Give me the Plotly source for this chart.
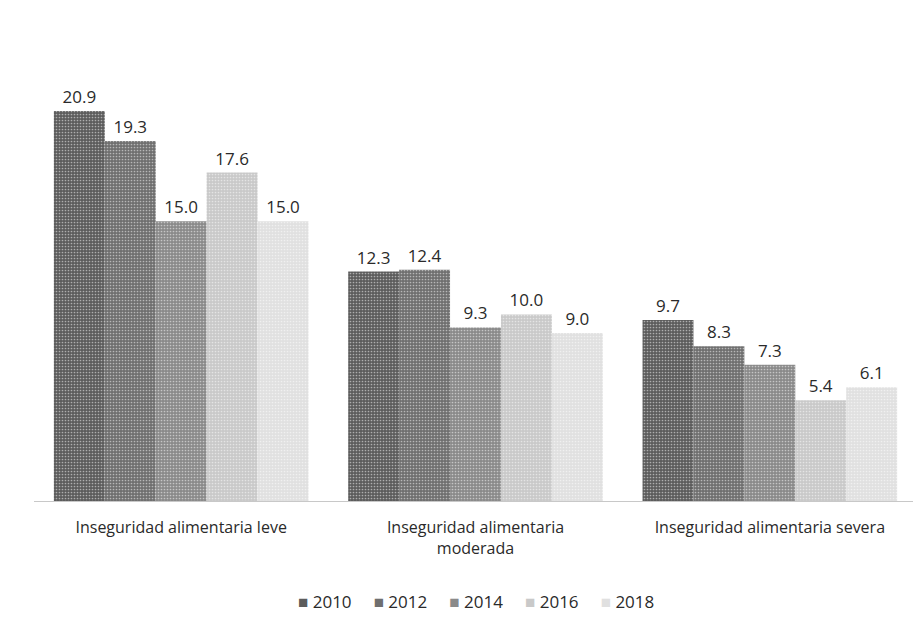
import plotly.graph_objects as go

categories = ["Inseguridad alimentaria leve", "Inseguridad alimentaria<br>moderada", "Inseguridad alimentaria severa"]
years = ["2010", "2012", "2014", "2016", "2018"]
values = {
    "2010": [20.9, 12.3, 9.7],
    "2012": [19.3, 12.4, 8.3],
    "2014": [15.0, 9.3, 7.3],
    "2016": [17.6, 10.0, 5.4],
    "2018": [15.0, 9.0, 6.1],
}
colors = ["#5c5c5c", "#6f6f6f", "#8a8a8a", "#c9c9c9", "#e0e0e0"]

fig = go.Figure()
for y, c in zip(years, colors):
    fig.add_trace(go.Bar(
        name=y, x=categories, y=values[y],
        marker=dict(color=c, line=dict(width=0),
                    pattern=dict(shape=".", size=3, solidity=0.25, fgcolor="#ffffff")),
        text=[f"{v:.1f}" for v in values[y]], textposition="outside",
        textfont=dict(size=17, color="#2a2a2a", family="Open Sans"),
        cliponaxis=False, showlegend=False,
    ))

legend_text = "&nbsp;&nbsp;&nbsp;&nbsp;&nbsp;".join(
    f"<span style='font-size:17px;color:{c}'>■</span>&nbsp;{y}" for y, c in zip(years, colors)
)
fig.add_annotation(
    text=legend_text, xref="paper", yref="paper", x=0.5, y=-0.225,
    xanchor="center", yanchor="middle", showarrow=False,
    font=dict(size=17, color="#2a2a2a", family="Open Sans"),
)

fig.update_layout(
    width=921, height=625,
    barmode="group", bargap=0.135, bargroupgap=0,
    plot_bgcolor="white", paper_bgcolor="white",
    margin=dict(l=26, r=12, t=48, b=132),
    font=dict(family="Open Sans", size=16, color="#2a2a2a"),
    xaxis=dict(showline=True, linecolor="#c8c8c8", linewidth=1, ticks="",
               tickfont=dict(size=16), ticklabelstandoff=12),
    yaxis=dict(range=[0, 23.85], visible=False),
    showlegend=False,
)
fig.write_html("out.html")
